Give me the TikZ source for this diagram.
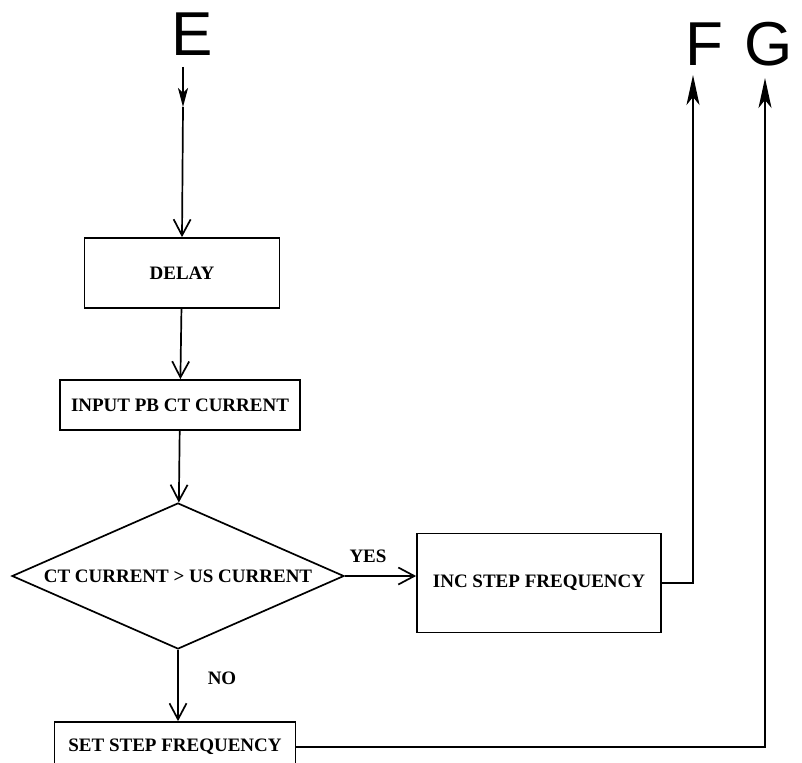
\documentclass[tikz,border=0pt]{standalone}
\usepackage{fontspec}
\setmainfont{Liberation Serif}
\newfontfamily\letterfont{Liberation Sans}
\usepackage{tikz}
\usetikzlibrary{arrows.meta,shapes.geometric}
\tikzset{
  flow/.style={-{Straight Barb[length=16pt,width=17pt]}, line width=1.7pt},
  exit arrow/.style={-{Stealth[length=30pt,width=13pt,inset=8pt]},
    line width=1.7pt},
  entry arrow/.style={-{Stealth[length=19pt,width=10pt,inset=5pt]},
    line width=1.7pt},
  plain box/.style={draw, line width=1.7pt, align=center,
    font=\fontsize{19}{21}\selectfont\bfseries, inner sep=0pt},
  test box/.style={diamond, draw, line width=1.7pt, aspect=2.27,
    inner sep=0pt, minimum width=332pt, minimum height=146pt,
    font=\fontsize{19}{21}\selectfont\bfseries},
  branch label/.style={font=\fontsize{19}{21}\selectfont\bfseries},
  connector letter/.style={font=\letterfont\fontsize{62}{62}\selectfont}
}
\begin{document}
\begin{tikzpicture}[x=1pt,y=-1pt]
  \clip (0,0) rectangle (802,762);
  \fill[white] (0,0) rectangle (802,762);

  \node[connector letter] (lblE) at (192,34) {E};
  \node[connector letter] (lblF) at (704,44) {F};
  \node[connector letter] (lblG) at (769,44) {G};
  \coordinate (eStart) at (183,67);
  \coordinate (eMid) at (183,107);
  \coordinate (fTip) at (693,75);
  \coordinate (gTip) at (765,78);

  \node[plain box, minimum width=195pt, minimum height=70pt]
    (delay) at (182,273) {DELAY};
  \node[plain box, minimum width=240pt, minimum height=50pt]
    (input) at (180,405) {INPUT PB CT CURRENT};
  \node[test box] (compare) at (178,576) {CT CURRENT > US CURRENT};
  \node[plain box, minimum width=244pt, minimum height=99pt]
    (incfreq) at (539,583) {INC STEP FREQUENCY};
  \node[plain box, minimum width=241pt, minimum height=50pt]
    (setfreq) at (175,747) {SET STEP FREQUENCY};
  \node[branch label] (yes) at (368,556) {YES};
  \node[branch label] (no) at (222,678) {NO};

  \draw[entry arrow] (eStart) -- (eMid);
  \draw[flow] (eMid) -- (delay.north);
  \draw[flow] (delay) -- (input);
  \draw[flow] (input) -- (compare);
  \draw[flow] (compare.east) -- (compare.east -| incfreq.west);
  \draw[flow] (compare) -- (compare.south |- setfreq.north);
  \draw[exit arrow] (incfreq.east) -| (fTip);
  \draw[exit arrow] (setfreq.east) -| (gTip);
\end{tikzpicture}
\end{document}
